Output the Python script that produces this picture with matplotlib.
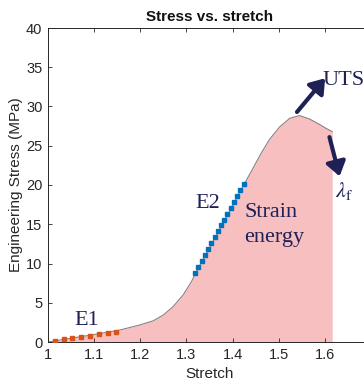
import matplotlib
matplotlib.use("Agg")
import matplotlib.pyplot as plt

# Stress-stretch curve
stretch = [1.0, 1.05, 1.1, 1.156, 1.199, 1.228, 1.25, 1.271, 1.293, 1.311, 1.32,
           1.35, 1.38, 1.40, 1.426, 1.444, 1.4625, 1.48, 1.502, 1.524, 1.545,
           1.567, 1.589, 1.60, 1.616]
stress = [0.0, 0.48, 0.95, 1.53, 2.17, 2.7, 3.44, 4.5, 6.0, 7.7, 8.8,
          12.0, 15.2, 17.4, 20.2, 22.1, 24.1, 25.8, 27.4, 28.5, 28.85,
          28.4, 27.7, 27.3, 26.8]

# E1 fit markers
e1_x = [1.016, 1.034, 1.053, 1.072, 1.092, 1.111, 1.129, 1.147]
e1_y = [0.17, 0.34, 0.47, 0.59, 0.80, 0.98, 1.10, 1.27]

# E2 fit markers
e2_x = [1.319, 1.326, 1.333, 1.340, 1.347, 1.354, 1.361, 1.368, 1.375, 1.382,
        1.389, 1.396, 1.403, 1.410, 1.417, 1.424]
e2_y = [8.85, 9.60, 10.35, 11.10, 11.85, 12.60, 13.35, 14.10, 14.85, 15.60,
        16.35, 17.10, 17.85, 18.60, 19.35, 20.10]

xticks = [1, 1.1, 1.2, 1.3, 1.4, 1.5, 1.6]
xtick_labels = ["1", "1.1", "1.2", "1.3", "1.4", "1.5", "1.6"]
yticks = [0, 5, 10, 15, 20, 25, 30, 35, 40]

plt.rcParams['font.family'] = ['Liberation Sans', 'DejaVu Sans']
plt.rcParams['mathtext.fontset'] = 'stix'

fig = plt.figure(figsize=(3.64, 3.83), dpi=100)
ax = fig.add_axes([48/364, 1-342/383, 323/364, 314/383])

ax.fill_between(stretch, stress, 0, color='#f7bfbf', lw=0, zorder=1)
ax.plot(stretch, stress, color='#8a8080', lw=0.8, zorder=2)
ax.plot(e1_x, e1_y, ls='none', marker='s', ms=3.0, color='#D95319', zorder=3)
ax.plot(e2_x, e2_y, ls='none', marker='s', ms=2.6, color='#0072BD', zorder=3)

ax.set_xlim(1, 1.7)
ax.set_ylim(0, 40)
ax.set_xticks(xticks)
ax.set_xticklabels(xtick_labels)
ax.set_yticks(yticks)
ax.tick_params(direction='in', top=True, right=True, length=3, width=0.6,
               labelsize=10.5, colors='#262626', pad=4)
for s in ax.spines.values():
    s.set_color('#262626')
    s.set_linewidth(0.7)

ax.set_title('Stress vs. stretch', fontsize=11, fontweight='bold', color='#111111', pad=5)
ax.set_xlabel('Stretch', fontsize=11, color='#262626', labelpad=4)
ax.set_ylabel('Engineering Stress (MPa)', fontsize=11, color='#262626', labelpad=2)

navy = '#1f2156'
serif = ['Liberation Serif', 'DejaVu Serif']
kw = dict(fontsize=16, color=navy, family=serif, va='baseline', ha='left')
ax.text(1.058, 2.2, 'E1', **kw)
ax.text(1.32, 17.1, 'E2', **kw)
ax.text(1.426, 15.9, 'Strain', **kw)
ax.text(1.426, 12.7, 'energy', **kw)
ax.text(1.595, 32.7, 'UTS', **kw)
ax.text(1.621, 18.5, r'$\lambda_\mathrm{f}$', fontsize=16, color=navy, va='baseline', ha='left')

arrow = dict(arrowstyle='-|>,head_length=0.6,head_width=0.42', color=navy, lw=3,
             shrinkA=0, shrinkB=0, mutation_scale=14)
ax.annotate('', xy=(1.6006, 33.6), xytext=(1.5396, 29.3), arrowprops=arrow)
ax.annotate('', xy=(1.632, 21.1), xytext=(1.610, 26.1), arrowprops=arrow)

fig.savefig('out.png', dpi=100)
